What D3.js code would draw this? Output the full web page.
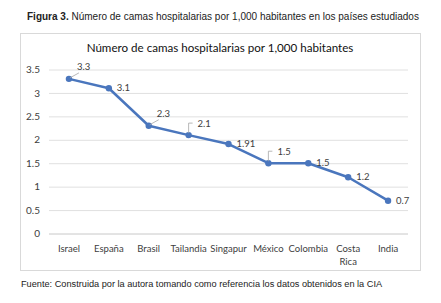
<!DOCTYPE html>
<html>
<head>
<meta charset="utf-8">
<script src="https://cdn.jsdelivr.net/npm/d3@7"></script>
<style>
  body { margin: 0; background: #fff; }
  svg { display: block; }
</style>
</head>
<body>
<div class="chart"></div>
<script>
// data
const paises = ['Israel', 'España', 'Brasil', 'Tailandia', 'Singapur', 'México', 'Colombia', 'Costa Rica', 'India']
const camas = [3.3, 3.1, 2.3, 2.1, 1.91, 1.5, 1.5, 1.2, 0.7]
const yTicks = [0, 0.5, 1, 1.5, 2, 2.5, 3, 3.5]

// how each data label is placed (style only)
const labelMode = ['diag', 'right', 'diag', 'bracket', 'right', 'bracket', 'right', 'right', 'right']

const W = 441, H = 303
const svg = d3.select('.chart')
    .append('svg')
        .attr('width', W)
        .attr('height', H)

const fmt = (d) => String(d)

// caption on top
const cap = svg.append('text')
    .attr('x', 27)
    .attr('y', 20)
    .style('font-family', '"Liberation Sans", Arial, sans-serif')
    .style('font-size', '10px')
    .style('fill', '#222')
cap.append('tspan').style('font-weight', 'bold').text('Figura 3.')
cap.append('tspan').text(' Número de camas hospitalarias por 1,000 habitantes en los países estudiados')

// chart frame
svg.append('rect')
    .attr('x', 20.5)
    .attr('y', 33.5)
    .attr('width', 400)
    .attr('height', 237)
    .style('fill', '#fff')
    .style('stroke', '#d9d9d9')

svg.append('text')
    .attr('x', 220)
    .attr('y', 52)
    .attr('text-anchor', 'middle')
    .style('font-family', 'Lato, "Open Sans", sans-serif')
    .style('font-size', '11.6px')
    .style('fill', '#111')
    .text('Número de camas hospitalarias por 1,000 habitantes')

const x = d3.scaleBand()
    .domain(paises)
    .range([49, 408])

const y = d3.scaleLinear()
    .domain([0, 3.5])
    .range([233.5, 69.5])

// gridlines + y labels
const yAxis = svg.append('g')
    .attr('transform', 'translate(49,0)')
    .call(d3.axisLeft(y)
        .tickValues(yTicks)
        .tickSize(-(408 - 49))
        .tickPadding(9)
        .tickFormat(fmt))

yAxis.select('.domain').remove()
yAxis.selectAll('line')
    .style('stroke', (d) => d === 0 ? '#c8c8c8' : '#e0e0e0')
yAxis.selectAll('text')
    .style('font-family', 'Lato, "Open Sans", sans-serif')
    .style('font-size', '10px')
    .style('fill', '#404040')

// x labels
const xAxis = svg.append('g')
    .attr('transform', 'translate(0,233.5)')
    .call(d3.axisBottom(x).tickSize(0).tickPadding(12))

xAxis.select('.domain').remove()
xAxis.selectAll('text')
    .style('font-family', 'Lato, "Open Sans", sans-serif')
    .style('font-size', '9.5px')
    .style('fill', '#404040')
    .each(function(d) {
        const words = d.split(' ')
        if (words.length < 2) return
        const t = d3.select(this).text(null)
        words.forEach((w, i) => t.append('tspan')
            .attr('x', 0)
            .attr('dy', i === 0 ? '0.71em' : '1.35em')
            .text(w))
    })

// line + markers
const cx = (d, i) => x(paises[i]) + x.bandwidth() / 2
const line = d3.line()
    .x(cx)
    .y((d) => y(d))

svg.append('path')
    .datum(camas)
    .attr('d', line)
    .style('fill', 'none')
    .style('stroke', '#4a76bd')
    .style('stroke-width', 2.5)
    .style('stroke-linejoin', 'round')

svg.append('g')
    .selectAll('circle')
    .data(camas)
    .enter()
    .append('circle')
        .attr('cx', cx)
        .attr('cy', (d) => y(d))
        .attr('r', 3.2)
        .style('fill', '#4a76bd')

// data labels
const labels = svg.append('g')
    .style('font-family', 'Lato, "Open Sans", sans-serif')
    .style('font-size', '9.5px')
    .style('fill', '#404040')

camas.forEach((v, i) => {
    const px = cx(v, i), py = y(v)
    const mode = labelMode[i]
    if (mode === 'right') {
        labels.append('text')
            .attr('x', px + 8)
            .attr('y', py + 3)
            .text(fmt(v))
    } else if (mode === 'diag') {
        labels.append('path')
            .attr('d', `M${px + 1},${py - 1} L${px + 10},${py - 6}`)
            .style('stroke', '#a6a6a6')
            .style('stroke-width', 0.8)
            .style('fill', 'none')
        labels.append('text')
            .attr('x', px + 8)
            .attr('y', py - 9)
            .text(fmt(v))
    } else {
        labels.append('path')
            .attr('d', `M${px},${py - 2} L${px},${py - 12} L${px + 4},${py - 12}`)
            .style('stroke', '#a6a6a6')
            .style('stroke-width', 0.8)
            .style('fill', 'none')
        labels.append('text')
            .attr('x', px + 9)
            .attr('y', py - 8)
            .text(fmt(v))
    }
})

// source line
svg.append('text')
    .attr('x', 21)
    .attr('y', 287)
    .style('font-family', '"Liberation Sans", Arial, sans-serif')
    .style('font-size', '9.2px')
    .style('fill', '#222')
    .text('Fuente: Construida por la autora tomando como referencia los datos obtenidos en la CIA')
</script>
</body>
</html>
